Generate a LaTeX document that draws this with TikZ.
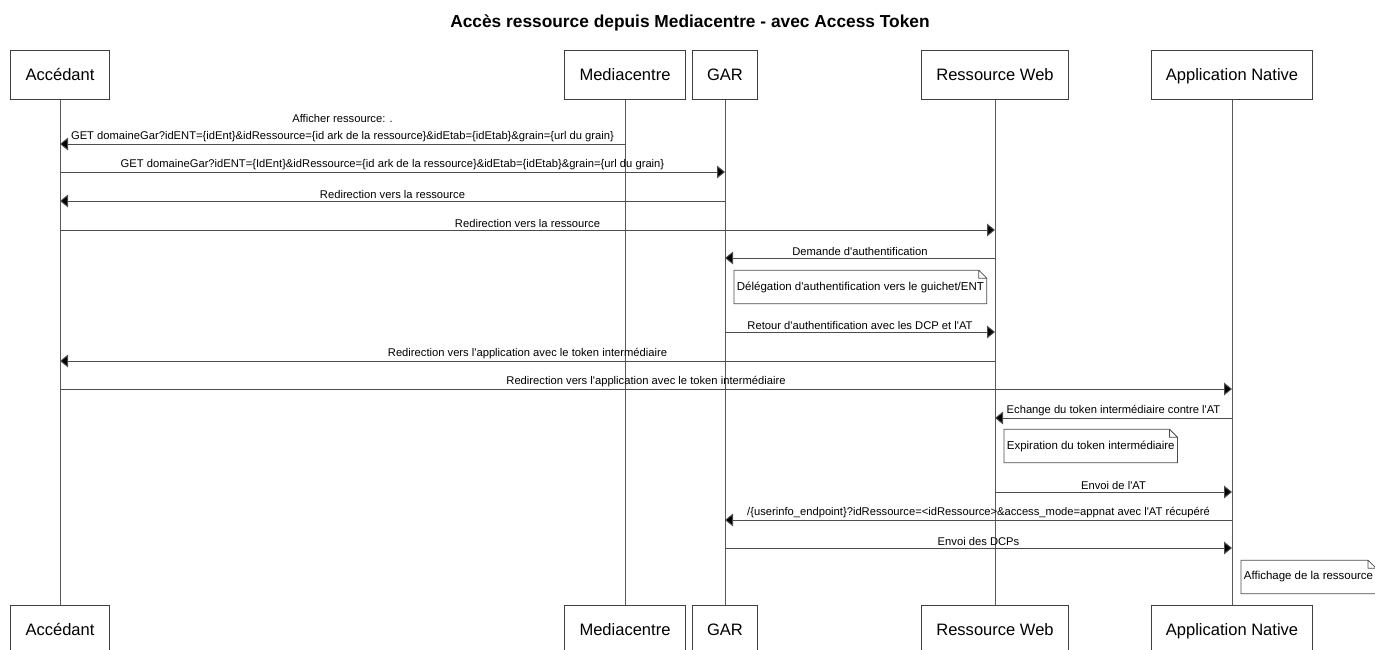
\documentclass[tikz,border=0pt]{standalone}
\usepackage{fontspec}
\setmainfont{Liberation Sans}[Ligatures=TeXOff]
\usetikzlibrary{positioning}
\usetikzlibrary{arrows.meta}

\begin{document}
\begin{tikzpicture}[x=0.75pt,y=-0.75pt]
\tikzstyle{actor} = [rectangle, draw=black!75, line width=0.75pt, minimum height=36.75pt, inner xsep=11pt, text height=11.5pt, text depth=2.6pt, font=\fontsize{12.4}{14}\selectfont]
\tikzstyle{life} = [draw=black!65, line width=0.75pt]
\tikzstyle{arrow} = [draw=black!70, line width=0.75pt, -{Triangle[length=6pt,width=9.5pt,fill=black]}]
\tikzstyle{msg} = [midway, anchor=south, inner sep=1.5pt, font=\fontsize{8.4}{10}\selectfont]
\tikzstyle{note} = [anchor=west, inner xsep=2pt, minimum height=24.75pt, font=\fontsize{8.6}{10}\selectfont]

\clip (0,0) rectangle (1375,650);

\node (title) at (690,23) {\fontsize{13}{15}\selectfont\bfseries Accès ressource depuis Mediacentre - avec Access Token};

% participants, top and bottom
\node (acc) [actor] at (60,74.5) {Accédant};
\node (med) [actor] at (625,74.5) {Mediacentre};
\node (gar) [actor] at (725,74.5) {GAR};
\node (rw) [actor] at (995,74.5) {Ressource Web};
\node (app) [actor] at (1232,74.5) {Application Native};

\node (accb) [actor] at (60,630) {Accédant};
\node (medb) [actor] at (625,630) {Mediacentre};
\node (garb) [actor] at (725,630) {GAR};
\node (rwb) [actor] at (995,630) {Ressource Web};
\node (appb) [actor] at (1232,630) {Application Native};

\foreach \p in {acc,med,gar,rw,app}
  \draw [life] (\p.south) -- (\p b.north);

% messages
\draw [arrow] (med |- 0,144) -- (acc |- 0,144) node [msg, align=center] {Afficher ressource: .\\[2.5pt] GET domaineGar?idENT=\{idEnt\}\&idRessource=\{id ark de la ressource\}\&idEtab=\{idEtab\}\&grain=\{url du grain\}};
\draw [arrow] (acc |- 0,172) -- (gar |- 0,172) node [msg] {GET domaineGar?idENT=\{IdEnt\}\&idRessource=\{id ark de la ressource\}\&idEtab=\{idEtab\}\&grain=\{url du grain\}};
\draw [arrow] (gar |- 0,201) -- (acc |- 0,201) node [msg] {Redirection vers la ressource};
\draw [arrow] (acc |- 0,230) -- (rw |- 0,230) node [msg] {Redirection vers la ressource};
\draw [arrow] (rw |- 0,258) -- (gar |- 0,258) node [msg] {Demande d'authentification};

\node (deleg) [note] at (734,287) {Délégation d'authentification vers le guichet/ENT};
\draw [draw=black!70, line width=0.6pt] (deleg.south west) -- (deleg.north west) -- ([xshift=-6pt]deleg.north east) -- ([yshift=-6pt]deleg.north east) -- (deleg.south east) -- cycle
  ([xshift=-6pt]deleg.north east) |- ([yshift=-6pt]deleg.north east);

\draw [arrow] (gar |- 0,332) -- (rw |- 0,332) node [msg] {Retour d'authentification avec les DCP et l'AT};
\draw [arrow] (rw |- 0,361) -- (acc |- 0,361) node [msg] {Redirection vers l'application avec le token intermédiaire};
\draw [arrow] (acc |- 0,389) -- (app |- 0,389) node [msg] {Redirection vers l'application avec le token intermédiaire};
\draw [arrow] (app |- 0,418) -- (rw |- 0,418) node [msg] {Echange du token intermédiaire contre l'AT};

\node (expir) [note] at (1004,446) {Expiration du token intermédiaire};
\draw [draw=black!70, line width=0.6pt] (expir.south west) -- (expir.north west) -- ([xshift=-6pt]expir.north east) -- ([yshift=-6pt]expir.north east) -- (expir.south east) -- cycle
  ([xshift=-6pt]expir.north east) |- ([yshift=-6pt]expir.north east);

\draw [arrow] (rw |- 0,492) -- (app |- 0,492) node [msg] {Envoi de l'AT};
\draw [arrow] (app |- 0,520) -- (gar |- 0,520) node [msg] {/\{userinfo\_endpoint\}?idRessource=<idRessource>\&access\_mode=appnat avec l'AT récupéré};
\draw [arrow] (gar |- 0,548) -- (app |- 0,548) node [msg] {Envoi des DCPs};

\node (affich) [note] at (1241,577) {Affichage de la ressource};
\draw [draw=black!70, line width=0.6pt] (affich.south west) -- (affich.north west) -- ([xshift=-6pt]affich.north east) -- ([yshift=-6pt]affich.north east) -- (affich.south east) -- cycle
  ([xshift=-6pt]affich.north east) |- ([yshift=-6pt]affich.north east);
\end{tikzpicture}
\end{document}
